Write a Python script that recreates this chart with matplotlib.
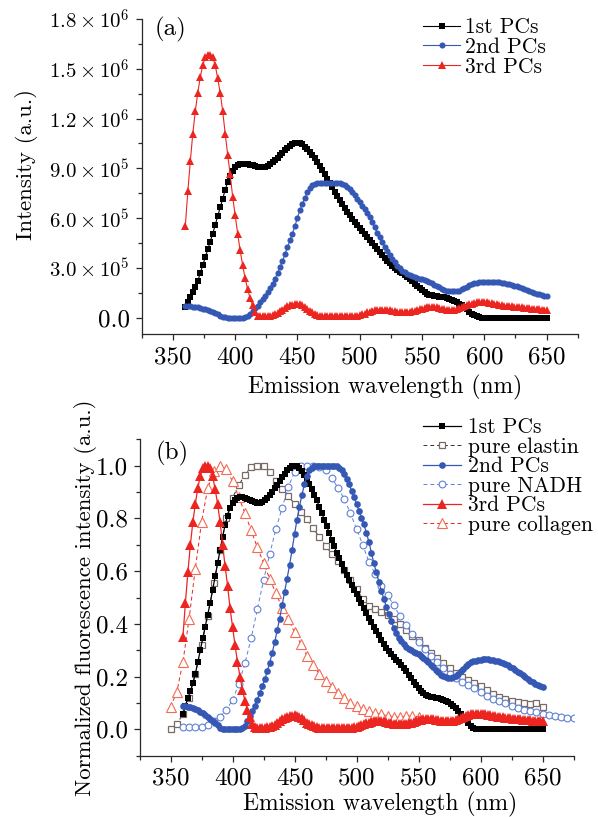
import numpy as np
import matplotlib
matplotlib.use("Agg")
import matplotlib.pyplot as plt
from matplotlib.ticker import MultipleLocator, FixedLocator, FixedFormatter

plt.rcParams['font.family'] = ['cmr10', 'DejaVu Serif']
plt.rcParams['mathtext.fontset'] = 'cm'
plt.rcParams['axes.unicode_minus'] = False

# ---------------- data ----------------
# principal components, sampled every 2 nm from 360 to 650 nm
pc_wavelength = np.arange(360, 651, 2)

first_pc_norm = [
    0.06, 0.09, 0.12, 0.145, 0.175, 0.21, 0.255, 0.30, 0.345, 0.39,
    0.435, 0.48, 0.53, 0.58, 0.63, 0.68, 0.73, 0.775, 0.81, 0.84,
    0.86, 0.87, 0.878, 0.88, 0.88, 0.878, 0.874, 0.87, 0.866, 0.862,
    0.86, 0.86, 0.862, 0.868, 0.876, 0.888, 0.90, 0.914, 0.928, 0.942,
    0.956, 0.97, 0.982, 0.992, 0.998, 1.0, 0.998, 0.99, 0.978, 0.964,
    0.948, 0.93, 0.91, 0.89, 0.868, 0.845, 0.82, 0.795, 0.77, 0.745,
    0.72, 0.695, 0.67, 0.648, 0.626, 0.605, 0.585, 0.565, 0.547, 0.53,
    0.513, 0.496, 0.478, 0.46, 0.442, 0.424, 0.407, 0.39, 0.373, 0.357,
    0.34, 0.325, 0.31, 0.297, 0.285, 0.274, 0.264, 0.254, 0.243, 0.232,
    0.22, 0.207, 0.194, 0.181, 0.168, 0.156, 0.145, 0.137, 0.131, 0.127,
    0.124, 0.122, 0.12, 0.118, 0.116, 0.113, 0.109, 0.104, 0.097, 0.09,
    0.08, 0.07, 0.059, 0.047, 0.035, 0.024, 0.014, 0.007, 0.003, 0.001,
    0.0, 0.0, 0.0, 0.0, 0.0, 0.0, 0.0, 0.0, 0.0, 0.0,
    0.0, 0.0, 0.0, 0.0, 0.0, 0.0, 0.0, 0.0, 0.0, 0.0,
    0.0, 0.0, 0.0, 0.0, 0.0, 0.0,
]

second_pc_norm = [
    0.088, 0.087, 0.085, 0.083, 0.08, 0.076, 0.072, 0.067, 0.061, 0.054,
    0.047, 0.04, 0.032, 0.024, 0.015, 0.007, 0.002, 0.0, 0.0, 0.0,
    0.0, 0.0, 0.0, 0.0, 0.004, 0.012, 0.03, 0.05, 0.07, 0.09,
    0.113, 0.138, 0.163, 0.19, 0.22, 0.253, 0.29, 0.33, 0.375, 0.42,
    0.47, 0.52, 0.572, 0.623, 0.68, 0.74, 0.795, 0.845, 0.89, 0.93,
    0.96, 0.982, 0.993, 0.998, 1.0, 1.0, 0.998, 0.997, 0.997, 0.998,
    1.0, 1.0, 0.998, 0.992, 0.982, 0.968, 0.95, 0.93, 0.905, 0.88,
    0.855, 0.828, 0.802, 0.777, 0.745, 0.71, 0.67, 0.63, 0.595, 0.56,
    0.525, 0.495, 0.465, 0.437, 0.41, 0.385, 0.365, 0.348, 0.335, 0.323,
    0.313, 0.306, 0.3, 0.295, 0.29, 0.285, 0.279, 0.272, 0.264, 0.255,
    0.245, 0.235, 0.225, 0.216, 0.208, 0.201, 0.197, 0.195, 0.195, 0.197,
    0.201, 0.21, 0.22, 0.23, 0.24, 0.248, 0.254, 0.258, 0.261, 0.263,
    0.264, 0.265, 0.265, 0.265, 0.264, 0.263, 0.261, 0.259, 0.256, 0.252,
    0.248, 0.243, 0.238, 0.232, 0.226, 0.219, 0.212, 0.205, 0.198, 0.191,
    0.184, 0.178, 0.172, 0.167, 0.163, 0.16,
]

third_pc_norm = [
    0.35, 0.48, 0.595, 0.70, 0.785, 0.855, 0.915, 0.96, 0.99, 1.0,
    1.0, 0.99, 0.96, 0.91, 0.855, 0.785, 0.70, 0.62, 0.545, 0.46,
    0.39, 0.32, 0.256, 0.2, 0.15, 0.108, 0.075, 0.047, 0.022, 0.008,
    0.005, 0.005, 0.005, 0.006, 0.008, 0.01, 0.013, 0.018, 0.024, 0.031,
    0.038, 0.043, 0.047, 0.05, 0.052, 0.053, 0.052, 0.048, 0.042, 0.034,
    0.026, 0.02, 0.015, 0.011, 0.008, 0.006, 0.005, 0.005, 0.005, 0.005,
    0.005, 0.005, 0.005, 0.005, 0.005, 0.005, 0.005, 0.006, 0.007, 0.008,
    0.01, 0.013, 0.016, 0.02, 0.023, 0.026, 0.028, 0.03, 0.031, 0.031,
    0.031, 0.03, 0.028, 0.026, 0.024, 0.022, 0.021, 0.02, 0.02, 0.021,
    0.022, 0.024, 0.026, 0.029, 0.032, 0.035, 0.037, 0.039, 0.04, 0.04,
    0.04, 0.039, 0.037, 0.035, 0.033, 0.031, 0.03, 0.03, 0.031, 0.033,
    0.036, 0.039, 0.043, 0.047, 0.051, 0.054, 0.057, 0.059, 0.06, 0.06,
    0.06, 0.059, 0.057, 0.055, 0.053, 0.051, 0.049, 0.047, 0.046, 0.045,
    0.044, 0.043, 0.042, 0.041, 0.04, 0.039, 0.038, 0.037, 0.036, 0.035,
    0.034, 0.033, 0.032, 0.031, 0.03, 0.03,
]

# peak intensities of the principal components (panel a, a.u.)
first_pc_peak = 1.055e6
second_pc_peak = 0.814e6
third_pc_peak = 1.585e6

# pure fluorophore spectra, sampled every 5 nm
elastin_wavelength = np.arange(350, 651, 5)
elastin_norm = [
    0.0, 0.02, 0.057, 0.12, 0.21, 0.32, 0.43, 0.555, 0.68, 0.8,
    0.878, 0.926, 0.965, 0.995, 1.0, 0.998, 0.975, 0.942, 0.91, 0.885,
    0.855, 0.825, 0.797, 0.762, 0.73, 0.697, 0.665, 0.638, 0.605, 0.568,
    0.533, 0.495, 0.468, 0.455, 0.445, 0.435, 0.418, 0.4, 0.375, 0.355,
    0.34, 0.31, 0.29, 0.27, 0.252, 0.232, 0.215, 0.2, 0.187, 0.176,
    0.165, 0.15, 0.135, 0.122, 0.114, 0.107, 0.102, 0.099, 0.097, 0.1,
    0.083,
]

nadh_wavelength = np.arange(360, 676, 5)
nadh_norm = [
    0.01, 0.01, 0.01, 0.01, 0.015, 0.03, 0.047, 0.075, 0.11, 0.172,
    0.25, 0.345, 0.455, 0.565, 0.665, 0.76, 0.84, 0.92, 0.975, 1.0,
    1.0, 1.0, 0.995, 0.985, 0.955, 0.915, 0.875, 0.82, 0.76, 0.7,
    0.635, 0.59, 0.545, 0.51, 0.47, 0.43, 0.395, 0.36, 0.33, 0.305,
    0.28, 0.255, 0.232, 0.21, 0.193, 0.18, 0.168, 0.155, 0.143, 0.128,
    0.117, 0.108, 0.1, 0.09, 0.082, 0.074, 0.068, 0.064, 0.06, 0.055,
    0.05, 0.046, 0.043, 0.042,
]

collagen_wavelength = np.arange(350, 551, 5)
collagen_norm = [
    0.085, 0.14, 0.255, 0.42, 0.61, 0.785, 0.915, 0.98, 1.0, 0.987,
    0.94, 0.882, 0.82, 0.755, 0.69, 0.632, 0.57, 0.517, 0.46, 0.418,
    0.368, 0.325, 0.28, 0.245, 0.21, 0.185, 0.16, 0.138, 0.118, 0.1,
    0.088, 0.077, 0.068, 0.062, 0.057, 0.052, 0.048, 0.045, 0.05, 0.05,
    0.048,
]

x_ticks = [350, 400, 450, 500, 550, 600, 650]
a_y_ticks = [0, 3e5, 6e5, 9e5, 1.2e6, 1.5e6, 1.8e6]
a_y_ticklabels = ['0.0', r'$3.0\times10^{5}$', r'$6.0\times10^{5}$', r'$9.0\times10^{5}$',
                  r'$1.2\times10^{6}$', r'$1.5\times10^{6}$', r'$1.8\times10^{6}$']
b_y_ticks = [0.0, 0.2, 0.4, 0.6, 0.8, 1.0]
b_y_ticklabels = ['0.0', '0.2', '0.4', '0.6', '0.8', '1.0']

# ---------------- styling ----------------
BLACK = '#000000'
BLUE = '#3458b4'
RED = '#ec2520'
ELASTIN = '#7a6a66'
NADH = '#5f80d8'
COLLAGEN = '#f26b55'
SPINE = '#2e2626'
FS_TICK = 18
FS_XLABEL = 17
FS_YLABEL = 16.5
FS_MATH = 15
FS_LEG = 15.5

fig = plt.figure(figsize=(5.98, 8.17), dpi=100)
ax_a = fig.add_axes([0.2370, 0.5908, 0.7291, 0.3859])
ax_b = fig.add_axes([0.2333, 0.0750, 0.7258, 0.3873])


def style_axes(ax):
    for side in ('top', 'right'):
        ax.spines[side].set_visible(False)
    for side in ('left', 'bottom'):
        ax.spines[side].set_color(SPINE)
        ax.spines[side].set_linewidth(0.9)
    ax.tick_params(which='major', direction='out', length=4.5, width=0.9,
                   color=SPINE, labelsize=FS_TICK, pad=4)
    ax.tick_params(which='minor', direction='out', length=2.8, width=0.9, color=SPINE)
    ax.set_xlim(325, 675)
    ax.xaxis.set_major_locator(FixedLocator(x_ticks))
    ax.xaxis.set_minor_locator(MultipleLocator(25))
    ax.set_xlabel('Emission wavelength (nm)', fontsize=FS_XLABEL)


# ---------------- panel (a) ----------------
style_axes(ax_a)
l1a, = ax_a.plot(pc_wavelength, np.array(first_pc_norm) * first_pc_peak, color=BLACK,
                 lw=0.8, marker='s', ms=3.8, mew=0, label='1st PCs')
l2a, = ax_a.plot(pc_wavelength, np.array(second_pc_norm) * second_pc_peak, color=BLUE,
                 lw=0.8, marker='o', ms=4.4, mew=0, label='2nd PCs')
l3a, = ax_a.plot(pc_wavelength, np.array(third_pc_norm) * third_pc_peak, color=RED,
                 lw=0.8, marker='^', ms=6.0, mew=0, label='3rd PCs')
ax_a.set_ylim(-1.0e5, 1.8e6)
ax_a.yaxis.set_major_locator(FixedLocator(a_y_ticks))
ax_a.yaxis.set_major_formatter(FixedFormatter(a_y_ticklabels))
ax_a.yaxis.set_minor_locator(MultipleLocator(1.5e5))
for lab in ax_a.get_yticklabels()[1:]:
    lab.set_fontsize(FS_MATH)
ax_a.set_ylabel('Intensity (a.u.)', fontsize=FS_YLABEL)
ax_a.yaxis.set_label_coords(-0.238, 0.54)
ax_a.xaxis.set_label_coords(0.558, -0.13)
ax_a.text(0.03, 1.008, '(a)', transform=ax_a.transAxes, fontsize=FS_TICK, va='top', ha='left')
ax_a.legend(handles=[l1a, l2a, l3a], loc='upper left', bbox_to_anchor=(0.707, 0.978),
            bbox_transform=fig.transFigure, frameon=False, fontsize=FS_LEG,
            borderpad=0, borderaxespad=0, handlelength=1.75, handletextpad=0.2,
            labelspacing=0.0)

# ---------------- panel (b) ----------------
style_axes(ax_b)
le, = ax_b.plot(elastin_wavelength, elastin_norm, color='#333333', ls=(0, (4, 3)), lw=0.7,
                marker='s', ms=4.6, mfc='white', mec=ELASTIN, mew=0.9, label='pure elastin')
ln, = ax_b.plot(nadh_wavelength, nadh_norm, color=NADH, ls=(0, (4, 3)), lw=0.7,
                marker='o', ms=4.9, mfc='white', mec=NADH, mew=0.8, label='pure NADH')
lc, = ax_b.plot(collagen_wavelength, collagen_norm, color=RED, ls=(0, (4, 3)), lw=0.7,
                marker='^', ms=7.5, mfc='white', mec=COLLAGEN, mew=0.8, label='pure collagen')
l1b, = ax_b.plot(pc_wavelength, first_pc_norm, color=BLACK, lw=0.9,
                 marker='s', ms=3.9, mew=0, label='1st PCs')
l2b, = ax_b.plot(pc_wavelength, second_pc_norm, color=BLUE, lw=0.9,
                 marker='o', ms=4.8, mew=0, label='2nd PCs')
l3b, = ax_b.plot(pc_wavelength, third_pc_norm, color=RED, lw=0.9,
                 marker='^', ms=7.0, mew=0, label='3rd PCs')
ax_b.set_ylim(-0.1, 1.1)
ax_b.yaxis.set_major_locator(FixedLocator(b_y_ticks))
ax_b.yaxis.set_major_formatter(FixedFormatter(b_y_ticklabels))
ax_b.yaxis.set_minor_locator(MultipleLocator(0.1))
ax_b.set_ylabel('Normalized fluorescence intensity (a.u.)', fontsize=FS_YLABEL)
ax_b.yaxis.set_label_coords(-0.098, 0.5)
ax_b.xaxis.set_label_coords(0.554, -0.115)
ax_b.text(0.036, 0.995, '(b)', transform=ax_b.transAxes, fontsize=FS_TICK, va='top', ha='left')
ax_b.legend(handles=[l1b, le, l2b, ln, l3b, lc], loc='upper left', bbox_to_anchor=(0.708, 0.4885),
            bbox_transform=fig.transFigure, frameon=False, fontsize=FS_LEG,
            borderpad=0, borderaxespad=0, handlelength=1.75, handletextpad=0.3,
            labelspacing=0.0)

fig.savefig('out.png', dpi=100)
